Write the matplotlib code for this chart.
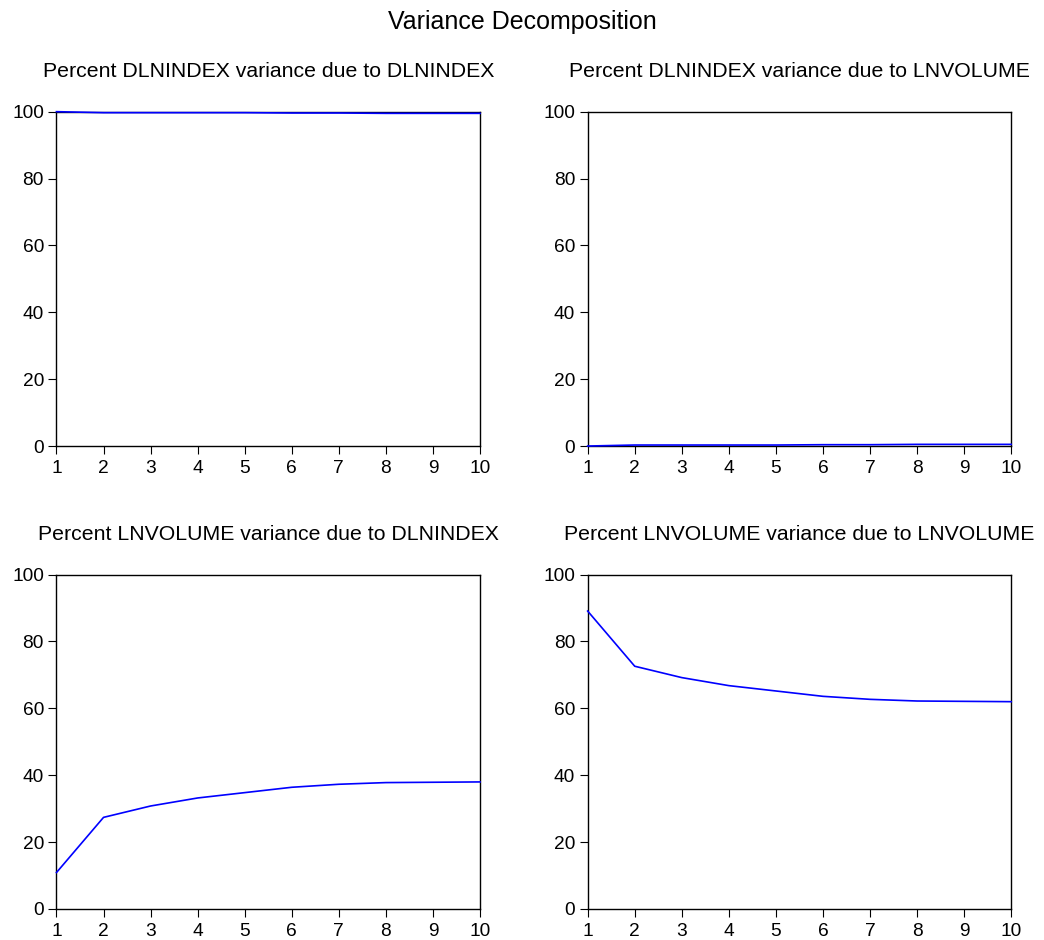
import matplotlib.pyplot as plt
import numpy as np

plt.rcParams['font.family'] = ['Liberation Sans', 'DejaVu Sans']

periods = np.arange(1, 11)

# percent of variance
dlnindex_by_dlnindex = [100.0, 99.7, 99.7, 99.7, 99.7, 99.6, 99.6, 99.5, 99.5, 99.5]
dlnindex_by_lnvolume = [0.0, 0.3, 0.3, 0.3, 0.3, 0.4, 0.4, 0.5, 0.5, 0.5]
lnvolume_by_dlnindex = [10.9, 27.4, 30.8, 33.2, 34.8, 36.4, 37.3, 37.8, 37.9, 38.0]
lnvolume_by_lnvolume = [89.1, 72.6, 69.2, 66.8, 65.2, 63.6, 62.7, 62.2, 62.1, 62.0]

titles = ["Percent DLNINDEX variance due to DLNINDEX",
          "Percent DLNINDEX variance due to LNVOLUME",
          "Percent LNVOLUME variance due to DLNINDEX",
          "Percent LNVOLUME variance due to LNVOLUME"]
series = [dlnindex_by_dlnindex, dlnindex_by_lnvolume,
          lnvolume_by_dlnindex, lnvolume_by_lnvolume]

fig = plt.figure(figsize=(10.44, 9.40), dpi=100)

# axes boxes in figure fractions (left, bottom, width, height)
lefts = [0.0541, 0.5629]
bottoms = [0.5255, 0.0330]
w = 0.4057
h = 0.3557

for i in range(4):
    row, col = divmod(i, 2)
    ax = fig.add_axes([lefts[col], bottoms[row], w, h])
    ax.plot(periods, series[i], color='#0000ff', lw=1.2, clip_on=False, zorder=3)
    ax.set_xlim(1, 10)
    ax.set_ylim(0, 100)
    ax.set_xticks(periods)
    ax.set_yticks([0, 20, 40, 60, 80, 100])
    ax.tick_params(axis='both', direction='out', length=5.5, width=0.8,
                   labelsize=13.8, colors='black')
    ax.tick_params(axis='y', pad=3.5)
    ax.tick_params(axis='x', pad=4.5)
    ax.tick_params(top=False, right=False)
    for s in ax.spines.values():
        s.set_linewidth(1.0)
        s.set_color('black')
    ax.text(0.5, 1 + 40 / 334.4, titles[i], transform=ax.transAxes,
            ha='center', va='center', fontsize=15.3)

fig.text(0.5, 1 - 22 / 940, "Variance Decomposition", ha='center', va='center',
         fontsize=18)

plt.savefig('out.png', dpi=100)
